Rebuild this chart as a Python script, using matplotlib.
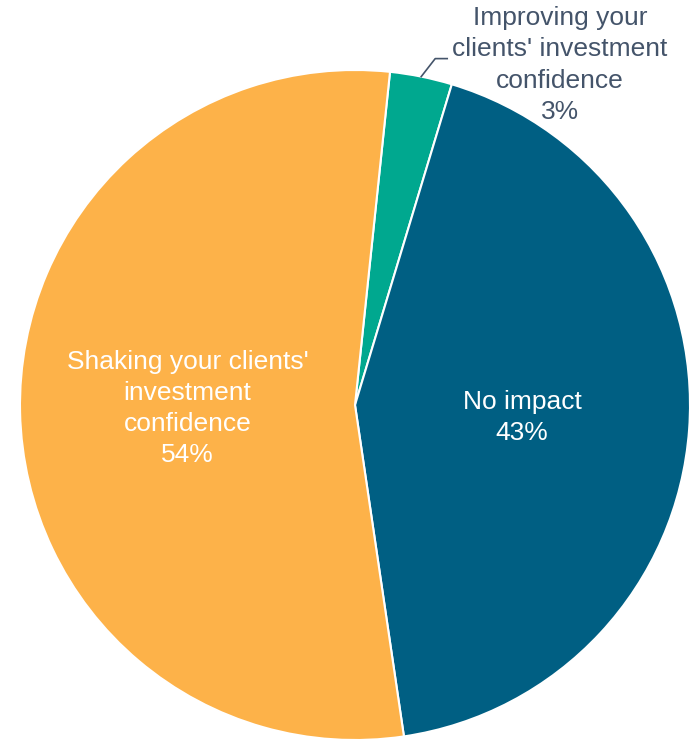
import numpy as np
import matplotlib.pyplot as plt

plt.rcParams["font.family"] = ["Liberation Sans", "DejaVu Sans"]

# Survey answers, clockwise from the top
categorias = ["Improving your\nclients' investment\nconfidence",
              "No impact",
              "Shaking your clients'\ninvestment\nconfidence"]
porcentajes = [3, 43, 54]
colores = ["#00A88F", "#005F83", "#FDB249"]

W, H = 692, 740
fig = plt.figure(figsize=(W / 100, H / 100), dpi=100)
ax = fig.add_axes([0, 0, 1, 1])

cx, cy, R = 355, 335, 335
wedges, _ = ax.pie(porcentajes, colors=colores, startangle=84, counterclock=False,
                   center=(cx, cy), radius=R, frame=True,
                   wedgeprops=dict(edgecolor="white", linewidth=1.5))
ax.set_xlim(0, W)
ax.set_ylim(0, H)
ax.set_aspect("equal")
ax.axis("off")

# labels inside the two big slices
for w, cat, pct in zip(wedges[1:], categorias[1:], porcentajes[1:]):
    ang = np.deg2rad((w.theta1 + w.theta2) / 2)
    x = cx + 0.5 * R * np.cos(ang)
    y = cy + 0.5 * R * np.sin(ang)
    ax.text(x, y, f"{cat}\n{pct}%", ha="center", va="center", color="white",
            fontsize=19, linespacing=1.38)

# small slice: label outside with a leader line
w = wedges[0]
ang = np.deg2rad((w.theta1 + w.theta2) / 2)
x0 = cx + R * np.cos(ang)
y0 = cy + R * np.sin(ang)
ax.plot([x0, x0 + 14, x0 + 26], [y0, y0 + 18, y0 + 18], color="#44546A", linewidth=1.2)
ax.text(560, 675, f"{categorias[0]}\n{porcentajes[0]}%", ha="center", va="center",
        color="#44546A", fontsize=19, linespacing=1.38)

fig.savefig("out.png", dpi=100)
